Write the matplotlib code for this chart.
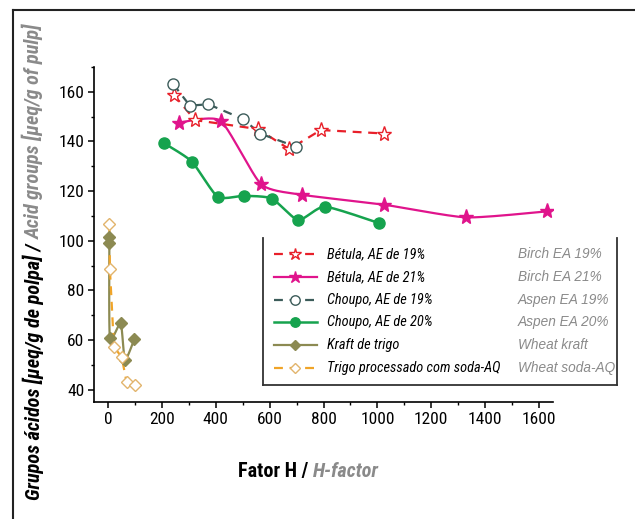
import matplotlib
matplotlib.use('Agg')
import matplotlib.pyplot as plt
from matplotlib.lines import Line2D
from matplotlib.ticker import MultipleLocator
from matplotlib import font_manager
import numpy as np

# prefer a narrow face if one is installed
names = {f.name for f in font_manager.fontManager.ttflist}
narrow = [n for n in ['Liberation Sans Narrow', 'DejaVu Sans Condensed', 'Roboto Condensed',
                      'Open Sans Condensed'] if n in names]
plt.rcParams['font.family'] = narrow + ['Liberation Sans', 'DejaVu Sans']
k_size = 1.0 if narrow else 0.82

# values
birch19_x = [245, 323, 556, 673, 790, 1025]
birch19_y = [158.7, 148.6, 145.0, 136.9, 144.6, 143.2]
birch21_x = [265, 418, 568, 721, 1025, 1329, 1628]
birch21_y = [147.6, 148.3, 122.8, 118.5, 114.5, 109.4, 111.8]
aspen19_x = [242, 304, 372, 502, 564, 697]
aspen19_y = [163.1, 154.4, 155.0, 149.0, 143.2, 137.9]
aspen20_x = [208, 311, 407, 505, 608, 706, 805, 1006]
aspen20_y = [139.3, 131.9, 117.7, 118.1, 117.0, 108.3, 113.7, 107.1]
kraft_x = [5, 5, 7, 47, 63, 98]
kraft_y = [101.6, 98.9, 60.8, 66.7, 52.0, 60.4]
soda_x = [5, 7, 22, 51, 69, 100]
soda_y = [106.7, 88.6, 57.3, 53.0, 43.0, 41.9]

labels_pt = ['Bétula, AE de 19%', 'Bétula, AE de 21%', 'Choupo, AE de 19%',
             'Choupo, AE de 20%', 'Kraft de trigo', 'Trigo processado com soda-AQ']
labels_en = ['Birch EA 19%', 'Birch EA 21%', 'Aspen EA 19%',
             'Aspen EA 20%', 'Wheat kraft', 'Wheat soda-AQ']

red = '#e8202a'
magenta = '#e0148c'
slate = '#3c5c5a'
green = '#16a34e'
olive = '#8c8a52'
orange = '#f0a428'
tan = '#e2b46c'
gray = '#8a8a8a'

xlim = (-52, 1650)
ylim = (35, 170)


def smooth(xs, ys, n=24, k=0.3):
    # cardinal spline through the points, done in roughly screen units
    sx = 458.0 / (xlim[1] - xlim[0])
    sy = 335.0 / (ylim[1] - ylim[0])
    p = np.column_stack([np.asarray(xs, float) * sx, np.asarray(ys, float) * sy])
    m = np.zeros_like(p)
    m[1:-1] = k * (p[2:] - p[:-2])
    m[0] = k * (p[1] - p[0])
    m[-1] = k * (p[-1] - p[-2])
    t = np.linspace(0, 1, n)[:, None]
    h00 = 2 * t ** 3 - 3 * t ** 2 + 1
    h10 = t ** 3 - 2 * t ** 2 + t
    h01 = -2 * t ** 3 + 3 * t ** 2
    h11 = t ** 3 - t ** 2
    segs = [h00 * p[i] + h10 * m[i] + h01 * p[i + 1] + h11 * m[i + 1] for i in range(len(p) - 1)]
    c = np.vstack(segs)
    return c[:, 0] / sx, c[:, 1] / sy


fig = plt.figure(figsize=(6.35, 5.19), dpi=100)
ax = fig.add_axes([94 / 635, 117 / 519, 458.5 / 635, 335 / 519])

dash = (0, (4, 3))
styles = [
    dict(color=red, ls=dash, lw=1.6, marker='*', ms=11, mfc='white', mec=red, mew=1.0),
    dict(color=magenta, ls='-', lw=1.6, marker='*', ms=11, mfc=magenta, mec=magenta, mew=1.0),
    dict(color=slate, ls=dash, lw=1.6, marker='o', ms=8, mfc='white', mec=slate, mew=1.0),
    dict(color=green, ls='-', lw=1.8, marker='o', ms=8, mfc=green, mec=green, mew=1.0),
    dict(color=olive, ls='-', lw=1.6, marker='D', ms=6.5, mfc=olive, mec=olive, mew=1.0),
    dict(color=orange, ls=dash, lw=1.6, marker='D', ms=6.5, mfc='white', mec=tan, mew=1.0),
]
series = [(birch19_x, birch19_y, False), (birch21_x, birch21_y, True),
          (aspen19_x, aspen19_y, False), (aspen20_x, aspen20_y, True),
          (kraft_x, kraft_y, True), (soda_x, soda_y, False)]

for (xs, ys, sm), st in zip(series, styles):
    lx, ly = smooth(xs, ys) if sm else (xs, ys)
    ax.plot(lx, ly, color=st['color'], ls=st['ls'], lw=st['lw'], zorder=2)
    ax.plot(xs, ys, ls='none', marker=st['marker'], ms=st['ms'], mfc=st['mfc'],
            mec=st['mec'], mew=st['mew'], zorder=3)

ax.set_xlim(*xlim)
ax.set_ylim(*ylim)
ax.xaxis.set_minor_locator(MultipleLocator(100))
ax.yaxis.set_minor_locator(MultipleLocator(10))
ax.set_xticks(np.arange(0, 1601, 200))
ax.set_yticks(np.arange(40, 161, 20))
ax.tick_params(which='major', direction='out', length=4, width=1.1, labelsize=12.5 * k_size, pad=3)
ax.tick_params(which='minor', direction='out', length=2.5, width=1.0)
for s in ['top', 'right']:
    ax.spines[s].set_visible(False)
for s in ['left', 'bottom']:
    ax.spines[s].set_linewidth(1.2)

# legend, drawn by hand so the English column lines up
box_l, box_r, box_t, box_b = 0.3686, 1.141, 0.4896, 0.0507
for xx, yy in [([box_l, box_l], [box_b, box_t]), ([box_r, box_r], [box_b, box_t]),
               ([box_l, box_r], [box_b, box_b])]:
    ax.add_line(Line2D(xx, yy, transform=ax.transAxes, color='#333333', lw=1.3, clip_on=False))
row_y = 0.4418 - np.arange(6) * (22.8 / 335)
for yy, st, lp, le in zip(row_y, styles, labels_pt, labels_en):
    ax.add_line(Line2D([0.392, 0.486], [yy, yy], transform=ax.transAxes, color=st['color'],
                       ls=st['ls'], lw=st['lw'], clip_on=False))
    ax.add_line(Line2D([0.439], [yy], transform=ax.transAxes, ls='none', marker=st['marker'],
                       ms=st['ms'] * 0.85, mfc=st['mfc'], mec=st['mec'], mew=st['mew'], clip_on=False))
    ax.text(0.508, yy, lp, transform=ax.transAxes, fontsize=10.4 * k_size, style='italic',
            va='center', ha='left', color='black')
    ax.text(0.925, yy, le, transform=ax.transAxes, fontsize=9.8, style='italic',
            family=['Liberation Sans', 'DejaVu Sans'], va='center', ha='left', color=gray)

renderer = fig.canvas.get_renderer()


def chain(parts, x, y, rotation=0, **kw):
    for s, color, style in parts:
        t = fig.text(x, y, s, color=color, style=style, rotation=rotation, **kw)
        bb = t.get_window_extent(renderer)
        if rotation == 90:
            y = bb.y1 / fig.bbox.height
        else:
            x = bb.x1 / fig.bbox.width


chain([('Fator H / ', 'black', 'normal'), ('H-factor', gray, 'italic')],
      238 / 635, 42 / 519, fontsize=14.5 * k_size, fontweight='bold', ha='left', va='baseline')
chain([('Grupos ácidos [µeq/g de polpa] / ', 'black', 'italic'),
       ('Acid groups [µeq/g of pulp]', gray, 'italic')],
      33 / 635, 19 / 519, rotation=90, fontsize=14.6 * k_size, fontweight='bold',
      ha='center', va='bottom')

# outer frame of the scanned figure
fig.add_artist(Line2D([13 / 635, 13 / 635], [0, 509 / 519], color='#222222', lw=1.5))
fig.add_artist(Line2D([13 / 635, 1], [509 / 519, 509 / 519], color='#222222', lw=1.5))

fig.savefig('out.png', dpi=100)
